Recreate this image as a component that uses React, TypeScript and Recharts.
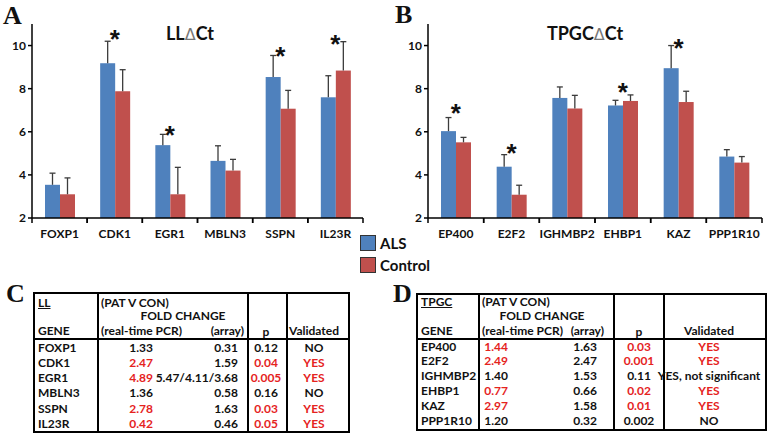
import React from 'react';
import { ComposedChart, Bar, Line, XAxis, YAxis } from 'recharts';

// panel A: LL delta Ct
const genesLL = ['FOXP1', 'CDK1', 'EGR1', 'MBLN3', 'SSPN', 'IL23R'];
const alsLL = [3.54, 9.18, 5.38, 4.65, 8.54, 7.6];
const alsErrLL = [0.54, 1.02, 0.5, 0.7, 1.0, 1.0];
const ctlLL = [3.1, 7.88, 3.1, 4.2, 7.07, 8.84];
const ctlErrLL = [0.76, 1.0, 1.25, 0.52, 0.85, 1.34];
const starLL = [null, 10.55, 6.08, null, 9.77, 10.32];

// panel B: TPGC delta Ct
const genesTPGC = ['EP400', 'E2F2', 'IGHMBP2', 'EHBP1', 'KAZ', 'PPP1R10'];
const alsTPGC = [6.03, 4.38, 7.57, 7.22, 8.95, 4.85];
const alsErrTPGC = [0.63, 0.56, 0.51, 0.24, 1.05, 0.32];
const ctlTPGC = [5.51, 3.08, 7.08, 7.43, 7.38, 4.57];
const ctlErrTPGC = [0.23, 0.44, 0.61, 0.28, 0.5, 0.28];
const starTPGC = [7.09, 5.25, null, 8.06, 10.1, null];

const yTicks = [2, 4, 6, 8, 10];

// panel C table
const pcrLL = ['1.33', '2.47', '4.89', '1.36', '2.78', '0.42'];
const arrayLL = ['0.31', '1.59', '5.47/4.11/3.68', '0.58', '1.63', '0.46'];
const pLL = ['0.12', '0.04', '0.005', '0.16', '0.03', '0.05'];
const validLL = ['NO', 'YES', 'YES', 'NO', 'YES', 'YES'];
const sigLL = [false, true, true, false, true, true];

// panel D table
const pcrTPGC = ['1.44', '2.49', '1.40', '0.77', '2.97', '1.20'];
const arrayTPGC = ['1.63', '2.47', '1.53', '0.66', '1.58', '0.32'];
const pTPGC = ['0.03', '0.001', '0.11', '0.02', '0.01', '0.002'];
const validTPGC = ['YES', 'YES', 'YES, not significant', 'YES', 'YES', 'NO'];
const sigTPGC = [true, true, false, true, true, false];

const BLUE = '#4f81bd';
const RED = '#c0504d';
const SIG_RED = '#e5231e';
const FONT = 'Lato, "Open Sans", sans-serif';

const makeData = (genes: string[], als: number[], alsErr: number[], ctl: number[], ctlErr: number[], star: (number | null)[]) =>
    genes.map((g, i) => ({ gene: g, als: als[i], alsErr: alsErr[i], ctl: ctl[i], ctlErr: ctlErr[i], star: star[i] }));

const dataLL = makeData(genesLL, alsLL, alsErrLL, ctlLL, ctlErrLL, starLL);
const dataTPGC = makeData(genesTPGC, alsTPGC, alsErrTPGC, ctlTPGC, ctlErrTPGC, starTPGC);

// bar + upward-only error whisker, scaled from the bar's own height
const barWithErr = (valKey: string, errKey: string) => (props: any) => {
    const { x, y, width, height, fill, payload } = props;
    const v = payload[valKey];
    const perUnit = height / (v - 2);
    const e = payload[errKey] * perUnit;
    const cx = x + width / 2;
    return (
        <g>
            <rect x={x} y={y} width={width} height={height} fill={fill} />
            <line x1={cx} y1={y} x2={cx} y2={y - e} stroke="#3c3c3c" strokeWidth={1.3} />
            <line x1={cx - 3} y1={y - e} x2={cx + 3} y2={y - e} stroke="#3c3c3c" strokeWidth={1.3} />
        </g>
    );
};

const renderStar = (props: any) => {
    const { cx, cy, payload, index } = props;
    if (cy == null || payload.star == null) return <g key={`s${index}`} />;
    return (
        <text key={`s${index}`} x={cx} y={cy + 14} textAnchor="middle" fontSize={26} fontWeight={700}
            fontFamily='"Liberation Sans", Arial, sans-serif' fill="#111">*</text>
    );
};

function PanelChart({ data, width, height, yWidth, marginRight }: any) {
    const margin = { top: 24, right: marginRight, left: 0, bottom: 15 };
    const xh = 17;
    const axisY = height - margin.bottom - xh;
    const bw = (width - yWidth - marginRight) / data.length;
    const catTick = (p: any) => (
        <g>
            <line x1={p.x - bw / 2} y1={axisY} x2={p.x - bw / 2} y2={axisY + 5} stroke="#000" strokeWidth={1.5} />
            <line x1={p.x + bw / 2} y1={axisY} x2={p.x + bw / 2} y2={axisY + 5} stroke="#000" strokeWidth={1.5} />
            <text x={p.x} y={axisY + 15} textAnchor="middle" dominantBaseline="central" fontSize={12}
                fontWeight={700} fontFamily={FONT} fill="#111">{p.payload.value}</text>
        </g>
    );
    return (
        <ComposedChart width={width} height={height} data={data} margin={margin} barGap={0} barSize={15}>
            <XAxis dataKey="gene" height={xh} interval={0} tickLine={false}
                axisLine={{ stroke: '#000', strokeWidth: 1.5 }} tick={catTick} />
            <YAxis width={yWidth} domain={[2, 11]} ticks={yTicks} interval={0} tickSize={4}
                axisLine={{ stroke: '#000', strokeWidth: 1.5 }} tickLine={{ stroke: '#000', strokeWidth: 1.5 }}
                tick={{ fontSize: 12, fontWeight: 700, fontFamily: FONT, fill: '#111' }} />
            <Bar dataKey="als" name="ALS" fill={BLUE} shape={barWithErr('als', 'alsErr')} isAnimationActive={false} />
            <Bar dataKey="ctl" name="Control" fill={RED} shape={barWithErr('ctl', 'ctlErr')} isAnimationActive={false} />
            <Line dataKey="star" stroke="none" dot={renderStar} activeDot={false} legendType="none"
                isAnimationActive={false} />
        </ComposedChart>
    );
}

function FoldTable({ L, title, genes, pcr, arr, p, valid, sig }: any) {
    // inner box is inside the 2px border
    const innerH = L.height - 4;
    const rowsTop = L.headerH + 1.5;
    const rowH = (innerH - rowsTop) / genes.length;
    const abs = (extra: any) => ({ position: 'absolute' as const, whiteSpace: 'nowrap' as const, ...extra });
    const hl = (y: number) => ({ top: y - 6, lineHeight: '12px', height: 12 });
    return (
        <div style={{
            position: 'absolute', left: L.left, top: L.top, width: L.width, height: L.height,
            border: '2px solid #000', boxSizing: 'border-box', fontFamily: FONT, fontWeight: 700,
            fontSize: 12, color: '#111', background: '#fff',
        }}>
            {L.cols.map((c: number, i: number) => (
                <div key={i} style={abs({ left: c, top: 0, bottom: 0, width: 1.5, background: '#000' })} />
            ))}
            <div style={abs({ left: 0, right: 0, top: L.headerH, height: 1.5, background: '#000' })} />
            <div style={abs({ left: 3, ...hl(L.l1), textDecoration: 'underline' })}>{title}</div>
            <div style={abs({ left: 3, ...hl(L.l3) })}>GENE</div>
            <div style={abs({ left: L.cols[0] + 4, ...hl(L.l1) })}>(PAT V CON)</div>
            <div style={abs({ left: L.foldCenter - 60, width: 120, textAlign: 'center', ...hl(L.l2) })}>FOLD CHANGE</div>
            <div style={abs({ left: L.cols[0] + 4, ...hl(L.l3) })}>(real-time PCR)</div>
            <div style={abs({ right: L.width - 4 - L.arrHeadRight, ...hl(L.l3) })}>(array)</div>
            <div style={abs({ left: L.pCenter - 20, width: 40, textAlign: 'center', ...hl(L.l3 + 1) })}>p</div>
            <div style={abs({ left: L.validCenter - 40, width: 80, textAlign: 'center', ...hl(L.l3) })}>Validated</div>
            {genes.map((g: string, i: number) => {
                const top = rowsTop + i * rowH;
                const col = sig[i] ? SIG_RED : '#111';
                const st = { top, lineHeight: `${rowH}px`, height: rowH };
                return (
                    <React.Fragment key={g}>
                        <div style={abs({ left: 3, ...st })}>{g}</div>
                        <div style={abs({ right: L.width - 4 - L.pcrRight, ...st, color: col })}>{pcr[i]}</div>
                        <div style={abs({ right: L.width - 4 - L.arrRight, ...st })}>{arr[i]}</div>
                        <div style={abs({ left: L.pCenter - 25, width: 50, textAlign: 'center', ...st, color: col })}>{p[i]}</div>
                        <div style={abs({ left: L.validCenter - 70, width: 140, textAlign: 'center', ...st, color: col })}>{valid[i]}</div>
                    </React.Fragment>
                );
            })}
        </div>
    );
}

const letter = (ch: string, left: number, top: number) => (
    <div style={{
        position: 'absolute', left, top, fontFamily: '"Liberation Serif", "Times New Roman", serif',
        fontWeight: 700, fontSize: 26, lineHeight: 1, color: '#111',
    }}>{ch}</div>
);

const title = (main: string, center: number) => (
    <div style={{
        position: 'absolute', left: center - 100, width: 200, top: 23, textAlign: 'center',
        fontFamily: FONT, fontWeight: 700, fontSize: 18, lineHeight: '20px', color: '#111',
    }}>
        {main}<span style={{ fontFamily: '"DejaVu Sans", sans-serif', fontWeight: 400, color: '#777', fontSize: 16 }}>Δ</span>Ct
    </div>
);

const legendItem = (label: string, color: string, top: number) => (
    <div style={{ position: 'absolute', left: 360, top, display: 'flex', alignItems: 'center' }}>
        <div style={{ width: 14, height: 14, background: color, border: '1.5px solid #333' }} />
        <span style={{ marginLeft: 4, fontFamily: FONT, fontWeight: 700, fontSize: 15, color: '#111' }}>{label}</span>
    </div>
);

const layoutC = {
    left: 33, top: 292, width: 317, height: 141, cols: [62, 212, 251], headerH: 44,
    l1: 9, l2: 22, l3: 37, foldCenter: 148, arrHeadRight: 209, pcrRight: 118, arrRight: 203,
    pCenter: 231, validCenter: 279,
};
const layoutD = {
    left: 416, top: 293, width: 351, height: 138, cols: [60, 195, 245], headerH: 43,
    l1: 7, l2: 21, l3: 36, foldCenter: 124, arrHeadRight: 186, pcrRight: 90, arrRight: 179,
    pCenter: 221, validCenter: 291,
};

export default function App() {
    return (
        <div style={{ position: 'absolute', left: 0, top: 0, width: 767, height: 436, background: '#fff', overflow: 'hidden' }}>
            <div style={{ position: 'absolute', left: 0, top: 0 }}>
                <PanelChart data={dataLL} width={380} height={250} yWidth={32} marginRight={17} />
            </div>
            <div style={{ position: 'absolute', left: 390, top: 0 }}>
                <PanelChart data={dataTPGC} width={377} height={250} yWidth={38} marginRight={5} />
            </div>
            {title('LL', 190)}
            {title('TPGC', 585)}
            {letter('A', 3, 3)}
            {letter('B', 395, 2)}
            {letter('C', 6, 281)}
            {letter('D', 393, 281)}
            {legendItem('ALS', BLUE, 234)}
            {legendItem('Control', RED, 256)}
            <FoldTable L={layoutC} title="LL" genes={genesLL} pcr={pcrLL} arr={arrayLL} p={pLL} valid={validLL} sig={sigLL} />
            <FoldTable L={layoutD} title="TPGC" genes={genesTPGC} pcr={pcrTPGC} arr={arrayTPGC} p={pTPGC} valid={validTPGC} sig={sigTPGC} />
        </div>
    );
}
